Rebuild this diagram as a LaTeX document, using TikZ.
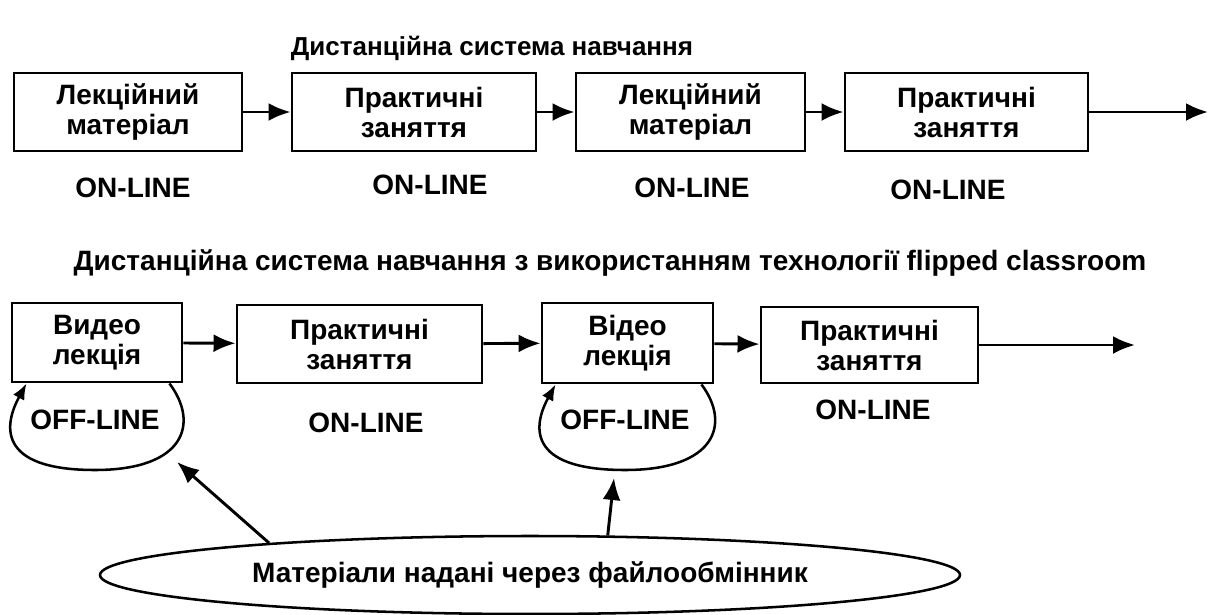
\documentclass[tikz,border=0pt]{standalone}
\usepackage{fontspec}
\setmainfont{Liberation Sans}
\usetikzlibrary{arrows.meta,shapes.geometric,calc}

\begin{document}
\begin{tikzpicture}[x=0.75pt,y=-0.75pt,
  font=\bfseries\fontsize{21}{22.5}\selectfont,
  box/.style={draw,line width=2.2pt,inner sep=0pt,align=center,minimum height=58.5pt},
  arr/.style={line width=2.2pt,-{Latex[length=16.5pt,width=13.5pt]}},
  loopline/.style={line width=1.9pt,-{Latex[length=12pt,width=9.5pt]}},
  lbl/.style={inner sep=0pt}]
\useasboundingbox (0,0) rectangle (1209,614);

% upper scheme
\node[lbl,font=\bfseries\fontsize{19.5}{22}\selectfont] (t1) at (492,48) {Дистанційна система навчання};
\node[box,minimum width=171pt] (b1) at (128,112) {Лекційний\\матеріал};
\node[box,minimum width=183pt] (b2) at (414,112) {Практичні\\заняття};
\node[box,minimum width=171.75pt] (b3) at (690.5,112) {Лекційний\\матеріал};
\node[box,minimum width=182.25pt] (b4) at (966.5,112) {Практичні\\заняття};
\coordinate (e1) at (1208,112);

\node[lbl] (on1) at (133,188) {ON-LINE};
\node[lbl] (on2) at (430,185) {ON-LINE};
\node[lbl] (on3) at (692,188) {ON-LINE};
\node[lbl] (on4) at (948,190) {ON-LINE};

\draw[arr] (b1) -- (b2);
\draw[arr] (b2) -- (b3);
\draw[arr] (b3) -- (b4);
\draw[arr] (b4) -- (e1);

% lower scheme
\node[lbl] (t2) at (610,263) {Дистанційна система навчання з використанням технології flipped classroom};
\node[box,minimum width=127.5pt,minimum height=59.25pt] (v1) at (97,342.5) {Видео\\лекція};
\node[box,minimum width=183.75pt] (p1) at (359.5,344) {Практичні\\заняття};
\node[box,minimum width=128.25pt,minimum height=60pt] (v2) at (627.5,343) {Відео\\лекція};
\node[box,minimum width=162.75pt,minimum height=57pt] (p2) at (869.5,345) {Практичні\\заняття};
\coordinate (e2) at (1135,345);

\node[lbl] (off1) at (95,420) {OFF-LINE};
\node[lbl] (on5) at (366,423) {ON-LINE};
\node[lbl] (off2) at (625,420) {OFF-LINE};
\node[lbl] (on6) at (873,410) {ON-LINE};

\draw[arr] (v1) -- (p1);
\draw[arr] (p1) -- (v2);
\draw[arr] (v2) -- (p2);
\draw[arr] (p2) -- (e2);

\draw[loopline] ($(v1.south east)+(-14,0)$) .. controls +(30,40) and +(90,0) .. ($(off1)+(0,50)$)
  .. controls +(-100,0) and +(-22,40) .. ($(v1.south west)+(16,0)$);
\draw[loopline] ($(v2.south east)+(-13,0)$) .. controls +(30,40) and +(90,0) .. ($(off2)+(0,50)$)
  .. controls +(-100,0) and +(-22,40) .. ($(v2.south west)+(15,0)$);

% shared materials
\node[draw,ellipse,line width=1.9pt,inner sep=0pt,minimum width=645pt,minimum height=58.5pt] (mat) at (530,575) {Матеріали надані через файлообмінник};
\coordinate (g1) at (177,462);
\coordinate (g2) at (614,478);
\draw[arr] (mat.173.8) -- (g1);
\draw[arr] (mat.27.5) -- (g2);
\end{tikzpicture}
\end{document}
